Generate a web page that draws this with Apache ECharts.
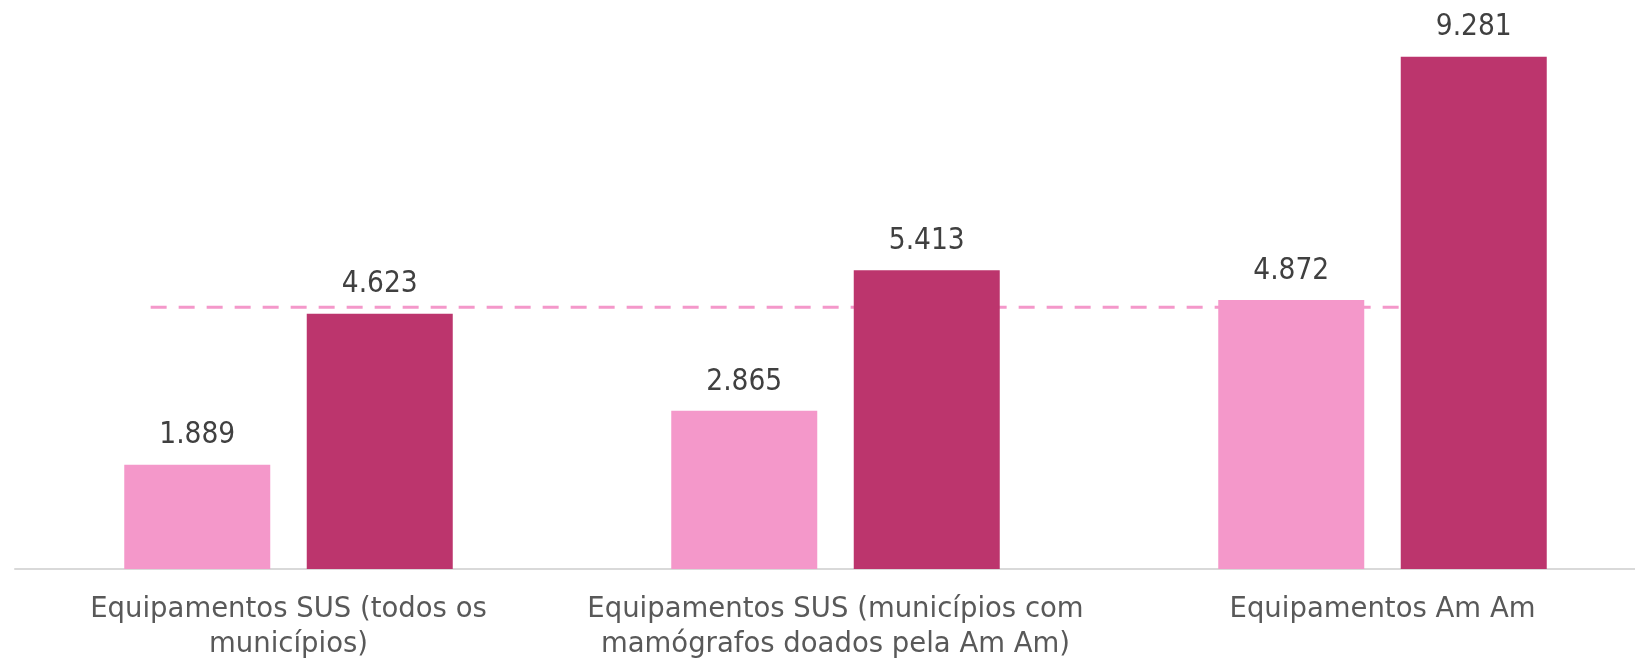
<!DOCTYPE html>
<html>
<head>
<meta charset="utf-8">
<script src="https://cdn.jsdelivr.net/npm/echarts@6/dist/echarts.min.js"></script>
<style>html,body{margin:0;padding:0;background:#fff}#c{width:1635px;height:664px}</style>
</head>
<body>
<div id="c"></div>
<script>
const categories = ['Equipamentos SUS (todos os\nmunicípios)', 'Equipamentos SUS (municípios com\nmamógrafos doados pela Am Am)', 'Equipamentos Am Am'];
const seriesLight = [1889, 2865, 4872];
const seriesDark = [4623, 5413, 9281];
const refValue = 4744;
const refFrom = -0.252;
const refTo = 2.2;

const fmt = v => {
  const s = String(v);
  return s.length > 3 ? s.slice(0, s.length - 3) + '.' + s.slice(s.length - 3) : s;
};
const FONT_NUM = '"DejaVu Sans Condensed", "DejaVu Sans", sans-serif';
const FONT_CAT = '"DejaVu Sans", sans-serif';

const chart = echarts.init(document.getElementById('c'));
chart.setOption({
  animation: false,
  grid: { left: 15, width: 1641, top: 17, bottom: 95, containLabel: false, outerBoundsMode: 'none' },
  xAxis: [{
    type: 'category',
    data: categories,
    axisTick: { show: false },
    axisLine: { lineStyle: { color: '#D9D9D9', width: 2 } },
    axisLabel: { color: '#595959', fontSize: 27.5, fontFamily: FONT_CAT, lineHeight: 35, margin: 23, interval: 0 }
  }, {
    type: 'value', min: -0.5, max: 2.5, show: false
  }],
  yAxis: { type: 'value', min: 0, max: 10000, show: false, splitLine: { show: false } },
  series: [{
    type: 'line',
    xAxisIndex: 1,
    data: [[refFrom, refValue], [refTo, refValue]],
    symbol: 'none',
    z: 1,
    lineStyle: { color: '#F498CA', width: 3, type: [16, 12] }
  }, {
    type: 'bar',
    data: seriesLight,
    barWidth: 146,
    barGap: '25%',
    z: 2,
    itemStyle: { color: '#F498CA' },
    label: { show: true, position: 'top', distance: 14, color: '#404040', fontSize: 29.5, fontFamily: FONT_NUM, formatter: p => fmt(p.value) }
  }, {
    type: 'bar',
    data: seriesDark,
    barWidth: 146,
    barGap: '25%',
    z: 2,
    itemStyle: { color: '#BC356D' },
    label: { show: true, position: 'top', distance: 14, color: '#404040', fontSize: 29.5, fontFamily: FONT_NUM, formatter: p => fmt(p.value) }
  }]
});
</script>
</body>
</html>
